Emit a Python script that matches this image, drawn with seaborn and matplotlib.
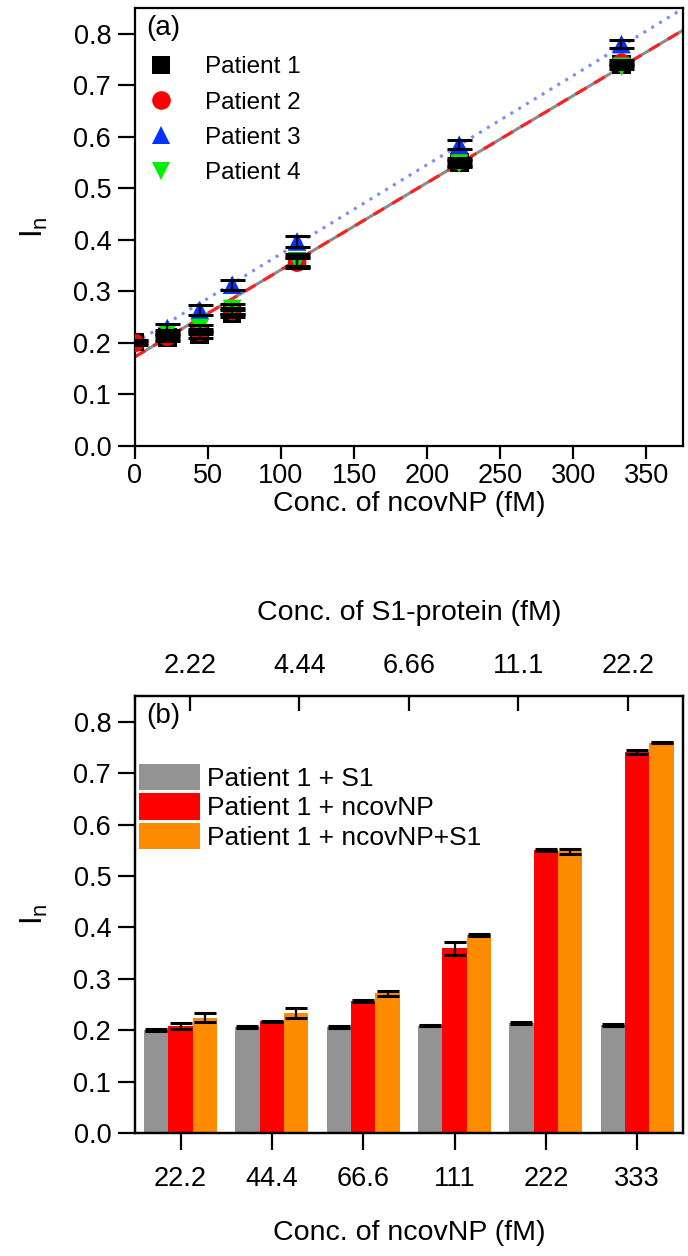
import matplotlib
matplotlib.use("Agg")
import matplotlib.pyplot as plt
import numpy as np
import pandas as pd
import seaborn as sns

# ---- panel (a): normalized current vs ncovNP concentration ----
conc_np = [0, 22.2, 44.4, 66.6, 111, 222, 333]
patients = ["Patient 1", "Patient 2", "Patient 3", "Patient 4"]
p1_vals = [0.202, 0.210, 0.216, 0.257, 0.359, 0.550, 0.741]
p2_vals = [0.200, 0.212, 0.222, 0.262, 0.356, 0.553, 0.744]
p3_vals = [np.nan, 0.229, 0.264, 0.313, 0.397, 0.585, 0.780]
p4_vals = [np.nan, 0.220, 0.229, 0.266, 0.358, 0.548, 0.736]
p1_err = [0.003, 0.006, 0.006, 0.006, 0.013, 0.006, 0.004]
p2_err = [0.004, 0.005, 0.005, 0.005, 0.008, 0.006, 0.005]
p3_err = [np.nan, 0.008, 0.010, 0.010, 0.010, 0.008, 0.007]
p4_err = [np.nan, 0.006, 0.005, 0.010, 0.008, 0.006, 0.005]

# linear fits (intercept, slope)
fit_red = [0.173, 0.00169]
fit_blue = [0.200, 0.00173]

# ---- panel (b): Patient 1 bars ----
conc_labels = ["22.2", "44.4", "66.6", "111", "222", "333"]
s1_labels = ["2.22", "4.44", "6.66", "11.1", "22.2"]
groups = ["Patient 1 + S1", "Patient 1 + ncovNP", "Patient 1 + ncovNP+S1"]
s1_vals = [0.200, 0.206, 0.207, 0.209, 0.214, 0.211]
np_vals = [0.208, 0.217, 0.257, 0.359, 0.550, 0.741]
both_vals = [0.224, 0.234, 0.272, 0.386, 0.548, 0.759]
s1_err = [0.002, 0.002, 0.002, 0.001, 0.002, 0.002]
np_err = [0.006, 0.001, 0.002, 0.013, 0.002, 0.004]
both_err = [0.009, 0.010, 0.005, 0.002, 0.005, 0.001]

sns.set_theme(style="ticks")
plt.rcParams['font.family'] = ['Liberation Sans', 'DejaVu Sans']
plt.rcParams['axes.linewidth'] = 1.6
for k in ['text.color', 'axes.labelcolor', 'xtick.color', 'ytick.color', 'axes.edgecolor']:
    plt.rcParams[k] = 'black'

fig = plt.figure(figsize=(6.88, 12.56), dpi=100)
ax_a = fig.add_axes([0.196, 0.6449, 0.7965, 0.3487])
ax_b = fig.add_axes([0.196, 0.0979, 0.7965, 0.348])

fs_tick = 19.5
fs_lab = 20.5
fs_leg = 17.5

# panel (a)
df_a = pd.DataFrame({
    "conc": conc_np * 4,
    "In": p1_vals + p2_vals + p3_vals + p4_vals,
    "err": p1_err + p2_err + p3_err + p4_err,
    "patient": sum([[p] * len(conc_np) for p in patients], []),
}).dropna()

ax_a.axline((0, fit_blue[0]), slope=fit_blue[1], color="#7b8cf5", lw=2.2,
            ls=(0, (1, 2)), zorder=1)
ax_a.axline((0, fit_red[0]), slope=fit_red[1], color="#8c8c8c", lw=2.2, zorder=1)
ax_a.axline((0, fit_red[0]), slope=fit_red[1], color="#ff2020", lw=2.2,
            ls=(0, (4, 3)), zorder=2)

pal_a = {"Patient 1": "black", "Patient 2": "#ff0000",
         "Patient 3": "#0033ff", "Patient 4": "#00ee00"}
mk_a = {"Patient 1": "s", "Patient 2": "o", "Patient 3": "^", "Patient 4": "v"}
sns.scatterplot(data=df_a, x="conc", y="In", hue="patient", style="patient",
                palette=pal_a, markers=mk_a, s=180, linewidth=0, ax=ax_a, zorder=3)

ax_a.errorbar(df_a["conc"], df_a["In"], yerr=df_a["err"], fmt="none",
              ecolor="black", elinewidth=1.6, capsize=9, capthick=2.2, zorder=4)

ax_a.set_xlim(0, 375)
ax_a.set_ylim(0, 0.85)
ax_a.set_xticks(np.arange(0, 351, 50))
ax_a.set_yticks(np.arange(0, 0.81, 0.1))
ax_a.yaxis.set_major_formatter(matplotlib.ticker.FormatStrFormatter("%.1f"))
ax_a.tick_params(axis="both", direction="out", width=1.6, labelsize=fs_tick)
ax_a.tick_params(axis="x", length=9.5, pad=3)
ax_a.tick_params(axis="y", length=12, pad=5)
ax_a.set_xlabel("Conc. of ncovNP (fM)", fontsize=fs_lab)
ax_a.set_ylabel(r"$\mathregular{I_n}$", fontsize=fs_lab + 2)
ax_a.xaxis.set_label_coords(0.5, -0.102)
ax_a.yaxis.set_label_coords(-0.155, 0.5)
ax_a.text(0.02, 0.985, "(a)", transform=ax_a.transAxes, fontsize=20,
          va="top", ha="left")
h, l = ax_a.get_legend_handles_labels()
ax_a.legend(h, l, loc="upper left", bbox_to_anchor=(0.003, 0.89), frameon=False,
            fontsize=fs_leg, borderpad=0, borderaxespad=0, handlelength=2.0,
            handletextpad=0.8, labelspacing=0.55, markerscale=1.0)

# panel (b)
df_b = pd.DataFrame({
    "conc": conc_labels * 3,
    "In": s1_vals + np_vals + both_vals,
    "group": sum([[g] * len(conc_labels) for g in groups], []),
})
pal_b = {groups[0]: "#939393", groups[1]: "#ff0000", groups[2]: "#ff8c00"}
sns.barplot(data=df_b, x="conc", y="In", hue="group", palette=pal_b,
            errorbar=None, width=0.8, saturation=1, linewidth=0, ax=ax_b)

for cont, errs in zip(ax_b.containers, [s1_err, np_err, both_err]):
    xs = [p.get_x() + p.get_width() / 2 for p in cont]
    ys = [p.get_height() for p in cont]
    ax_b.errorbar(xs, ys, yerr=errs, fmt="none", ecolor="black",
                  elinewidth=1.6, capsize=8, capthick=2.2, zorder=4)

ax_b.set_xlim(-0.5, 5.5)
ax_b.set_ylim(0, 0.85)
ax_b.set_yticks(np.arange(0, 0.81, 0.1))
ax_b.yaxis.set_major_formatter(matplotlib.ticker.FormatStrFormatter("%.1f"))
ax_b.tick_params(axis="both", direction="out", width=1.6, labelsize=fs_tick)
ax_b.tick_params(axis="x", length=12, pad=12)
ax_b.tick_params(axis="y", length=12, pad=5)
ax_b.set_xlabel("Conc. of ncovNP (fM)", fontsize=fs_lab)
ax_b.set_ylabel(r"$\mathregular{I_n}$", fontsize=fs_lab + 2)
ax_b.xaxis.set_label_coords(0.5, -0.2)
ax_b.yaxis.set_label_coords(-0.155, 0.5)
ax_b.text(0.02, 0.985, "(b)", transform=ax_b.transAxes, fontsize=20,
          va="top", ha="left")
h, l = ax_b.get_legend_handles_labels()
ax_b.legend(h, l, loc="upper left", bbox_to_anchor=(0.008, 0.845), frameon=False,
            fontsize=19, borderpad=0, borderaxespad=0, handlelength=2.3,
            handleheight=1.15, handletextpad=0.25, labelspacing=0.1)

ax_top = ax_b.twiny()
ax_top.set_xlim(0, 5)
ax_top.set_xticks(np.arange(len(s1_labels)) + 0.5)
ax_top.set_xticklabels(s1_labels)
ax_top.tick_params(axis="x", direction="in", length=11, width=1.6,
                   labelsize=fs_tick, pad=12)
ax_top.set_xlabel("Conc. of S1-protein (fM)", fontsize=fs_lab, labelpad=24)
ax_top.grid(False)

fig.savefig("out.png", dpi=100)
